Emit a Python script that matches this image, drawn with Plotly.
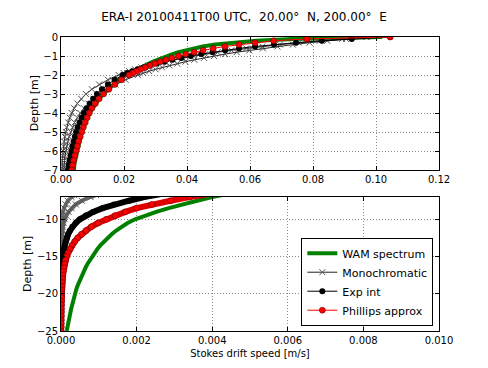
import plotly.graph_objects as go

# depth below surface [m] (negative down)
depth = [0.0, -0.1, -0.2, -0.3, -0.4, -0.5, -0.6, -0.7, -0.8, -0.9, -1.0,
         -1.1, -1.2, -1.3, -1.4, -1.5, -1.6, -1.7, -1.8, -1.9, -2.0,
         -2.25, -2.5, -2.75, -3.0, -3.25, -3.5, -3.75, -4.0, -4.25, -4.5,
         -4.75, -5.0, -5.25, -5.5, -5.75, -6.0, -6.25, -6.5, -6.75, -7.0,
         -7.5, -8.0, -8.5, -9.0, -9.5, -10.0, -10.5, -11.0, -11.5, -12.0,
         -12.5, -13.0, -13.5, -14.0, -14.5, -15.0, -15.5, -16.0, -16.5, -17.0,
         -17.5, -18.0, -18.5, -19.0, -19.5, -20.0, -20.5, -21.0, -21.5, -22.0,
         -22.5, -23.0, -23.5, -24.0, -24.5, -25.0]

# Stokes drift speed [m/s]
wam = [0.1020, 0.0740, 0.0620, 0.0540, 0.0490, 0.0450, 0.0420, 0.0395, 0.0373, 0.0354, 0.0337,
       0.0321, 0.0306, 0.0292, 0.0279, 0.0266, 0.0253, 0.0241, 0.0229, 0.0217, 0.0205,
       0.0184, 0.0166, 0.0149, 0.0134, 0.0121, 0.0110, 0.0100, 0.0091, 0.0084, 0.0077,
       0.0071, 0.0066, 0.0062, 0.0058, 0.0054, 0.0051, 0.0048, 0.0045, 0.0042, 0.0040,
       0.0036, 0.0032, 0.00285, 0.00252, 0.00222, 0.00196, 0.00176, 0.00160, 0.00146, 0.00134,
       0.00123, 0.00113, 0.00104, 0.00096, 0.00089, 0.00082, 0.00076, 0.00070, 0.00065, 0.00060,
       0.00055, 0.00051, 0.00047, 0.00043, 0.00040, 0.00037, 0.00034, 0.00031, 0.00029, 0.00027,
       0.00025, 0.00023, 0.00021, 0.00019, 0.00017, 0.00015]

mono = [0.0970, 0.0905, 0.0845, 0.0789, 0.0736, 0.0687, 0.0641, 0.0598, 0.0558, 0.0521, 0.0486,
        0.0454, 0.0423, 0.0395, 0.0369, 0.0344, 0.0321, 0.0300, 0.0280, 0.0261, 0.0244,
        0.0205, 0.0173, 0.0145, 0.0122, 0.0103, 0.0087, 0.0073, 0.0061, 0.0052, 0.0043,
        0.0037, 0.0031, 0.0026, 0.0022, 0.00185, 0.00155, 0.0013, 0.0011, 0.00093, 0.00078,
        0.00055, 0.00039, 0.00028, 0.00020, 0.00014, 0.00010, 0.00007, 0.00005, 0.000035, 0.000025,
        0.000018, 0.000012, 0.000009, 0.000006, 0.000004, 0.000003, 0.000002, 0.0000016, 0.0000011, 0.0000008,
        0.0000006, 0.0000004, 0.0000003, 0.0000002, 0.0000002, 0.0000001, 0.0000001, 0.0000001, 0.0, 0.0,
        0.0, 0.0, 0.0, 0.0, 0.0, 0.0]

mono_2 = [0.0970, 0.0892, 0.0821, 0.0755, 0.0695, 0.0639, 0.0588, 0.0541, 0.0497, 0.0458, 0.0421,
          0.0387, 0.0356, 0.0328, 0.0301, 0.0277, 0.0255, 0.0235, 0.0216, 0.0199, 0.0183,
          0.0149, 0.0121, 0.0098, 0.0079, 0.0064, 0.0052, 0.0042, 0.0034, 0.0028, 0.0023,
          0.0018, 0.0015, 0.0012, 0.00099, 0.0008, 0.00065, 0.00053, 0.00043, 0.00035, 0.00028,
          0.00018, 0.00012, 0.00008, 0.000053, 0.000035, 0.000023, 0.000015, 0.00001, 0.0000066, 0.0000044,
          0.000003, 0.000002, 0.0000013, 0.0000008, 0.0000005, 0.0000003, 0.0000002, 0.0000001, 0.0, 0.0,
          0.0, 0.0, 0.0, 0.0, 0.0, 0.0, 0.0, 0.0, 0.0, 0.0,
          0.0, 0.0, 0.0, 0.0, 0.0, 0.0]

exp_int = [0.1045, 0.0923, 0.0828, 0.0746, 0.0676, 0.0616, 0.0565, 0.0521, 0.0481, 0.0445, 0.0412,
           0.0382, 0.0354, 0.0328, 0.0304, 0.0282, 0.0262, 0.0243, 0.0226, 0.0210, 0.0196,
           0.0170, 0.0149, 0.0130, 0.0114, 0.0102, 0.0091, 0.0081, 0.0073, 0.0066, 0.0059,
           0.0053, 0.0048, 0.0044, 0.0040, 0.0036, 0.0033, 0.0030, 0.0027, 0.0024, 0.0022,
           0.0018, 0.0014, 0.0011, 0.00085, 0.00066, 0.00050, 0.00039, 0.00030, 0.00024, 0.00019,
           0.00015, 0.00012, 0.00010, 0.00008, 0.000065, 0.000052, 0.000042, 0.000034, 0.000027, 0.000022,
           0.000017, 0.000014, 0.000011, 0.000009, 0.000007, 0.0000055, 0.0000044, 0.0000035, 0.0000028, 0.0000022,
           0.0000018, 0.0000014, 0.0000011, 0.0000009, 0.0000007, 0.0000006]

phillips = [0.1045, 0.0780, 0.0675, 0.0616, 0.0565, 0.0520, 0.0483, 0.0451, 0.0423, 0.0396, 0.0373,
            0.0352, 0.0333, 0.0315, 0.0298, 0.0282, 0.0267, 0.0253, 0.0240, 0.0228, 0.0216,
            0.0192, 0.0171, 0.0152, 0.0135, 0.0121, 0.0109, 0.0098, 0.0090, 0.0083, 0.0077,
            0.0071, 0.0066, 0.0061, 0.0056, 0.0052, 0.0048, 0.0044, 0.0040, 0.0037, 0.0034,
            0.0029, 0.0024, 0.0020, 0.0017, 0.00143, 0.0012, 0.00098, 0.0008, 0.00066, 0.00054,
            0.00044, 0.00036, 0.00029, 0.00024, 0.00019, 0.00015, 0.00012, 0.0001, 0.00008, 0.000065,
            0.000052, 0.000042, 0.000034, 0.000027, 0.000022, 0.000018, 0.000014, 0.000011, 0.000009, 0.000007,
            0.000006, 0.000005, 0.000004, 0.000003, 0.0000025, 0.000002]

title_text = ("ERA-I 20100411T00 UTC,\u00a0 20.00\u00b0\u00a0 N, "
              "200.00\u00b0\u00a0 E")

FONT = "DejaVu Sans, Arial, sans-serif"

x_marker = dict(symbol="x-thin", size=6, line=dict(color="#555", width=1))

# line = top panel (thin), line2 = bottom panel (dense marker bands)
series = [
    dict(name="WAM spectrum", x=wam, mode="lines",
         line=dict(color="#008000", width=4),
         line2=dict(color="#008000", width=4), legend=True),
    dict(name="Monochromatic", x=mono_2, mode="lines+markers",
         line=dict(color="#222", width=1), line2=dict(color="#777", width=4),
         marker=x_marker, legend=False),
    dict(name="Monochromatic", x=mono, mode="lines+markers",
         line=dict(color="#222", width=1), line2=dict(color="#666", width=4),
         marker=x_marker, legend=True),
    dict(name="Exp int", x=exp_int, mode="lines+markers",
         line=dict(color="black", width=1), line2=dict(color="black", width=6),
         marker=dict(symbol="circle", size=6, color="black"),
         legend=True),
    dict(name="Phillips approx", x=phillips, mode="lines+markers",
         line=dict(color="red", width=1), line2=dict(color="#e00000", width=6),
         marker=dict(symbol="circle", size=6, color="red",
                     line=dict(color="#400", width=0.5)),
         legend=True),
]

fig = go.Figure()

# same curves on both panels: top (surface) and bottom (deep part)
for ax in ["1", "2"]:
    for s in series:
        kw = dict(line=s["line"] if ax == "1" else s["line2"])
        if "marker" in s:
            kw["marker"] = s["marker"]
        fig.add_trace(go.Scatter(
            x=s["x"], y=depth, mode=s["mode"], name=s["name"],
            xaxis="x" if ax == "1" else "x2",
            yaxis="y" if ax == "1" else "y2",
            showlegend=(ax == "1" and s["legend"]),
            hoverinfo="skip",
            **kw
        ))

axis_common = dict(
    showline=True, linecolor="black", linewidth=1, mirror="ticks",
    ticks="inside", ticklen=4, tickcolor="black",
    showgrid=True, gridcolor="#8c8c8c", griddash="1px,2px", gridwidth=1,
    zeroline=False, tickfont=dict(size=10, color="black", family=FONT),
)

fig.update_layout(
    width=488, height=368,
    paper_bgcolor="white", plot_bgcolor="white",
    margin=dict(l=61, r=49, t=37, b=37),
    font=dict(family=FONT, color="black"),
    title=dict(text=title_text, x=0.5, xanchor="center", y=0.955, yanchor="middle",
               font=dict(size=12, color="black")),
    xaxis=dict(domain=[0, 1], anchor="y", range=[0, 0.12], dtick=0.02,
               tickformat=".2f", **axis_common),
    yaxis=dict(domain=[0.5476, 1], anchor="x", range=[-7, 0], dtick=1,
               **axis_common),
    xaxis2=dict(domain=[0, 1], anchor="y2", range=[0, 0.010], dtick=0.002,
                tickformat=".3f",
                title=dict(text="Stokes drift speed [m/s]", font=dict(size=10), standoff=4),
                **axis_common),
    yaxis2=dict(domain=[0, 0.4558], anchor="x2", range=[-25, -7], dtick=5,
                **axis_common),
    legend=dict(x=0.985, y=0.018, xanchor="right", yanchor="bottom",
                bgcolor="white", bordercolor="black", borderwidth=1,
                font=dict(size=11, color="black"), tracegroupgap=0),
    showlegend=True,
)

# y-axis titles placed by hand (matplotlib puts them next to the tick labels)
for xpos, ypos in [(-0.069, 0.774), (-0.087, 0.228)]:
    fig.add_annotation(text="Depth [m]", xref="paper", yref="paper",
                       x=xpos, y=ypos, xanchor="center", yanchor="middle",
                       textangle=-90, showarrow=False,
                       font=dict(size=11, color="black"))

# page has a default 8px body margin; drop it so the figure fills the window
fig.write_html("out.html", config={"displayModeBar": False},
               post_script="document.body.style.margin='0';"
                           "document.body.style.overflow='hidden';")
